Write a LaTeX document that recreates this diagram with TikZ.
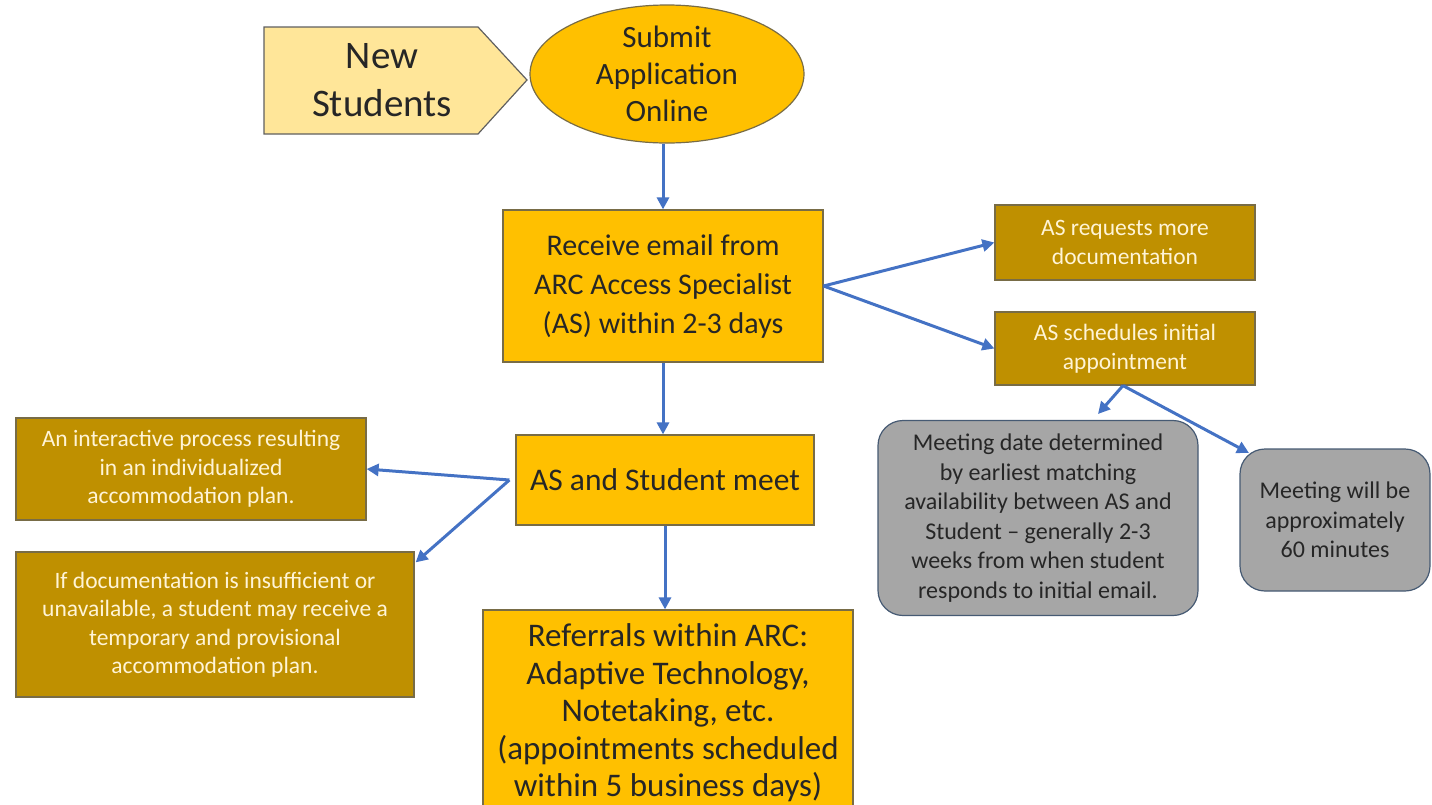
\documentclass[tikz,border=0pt]{standalone}
\usepackage{fontspec}
\setmainfont{Carlito}
\usetikzlibrary{shapes.geometric, arrows.meta, positioning, calc}
\definecolor{arcorange}{RGB}{255,192,0}
\definecolor{arcpale}{RGB}{255,230,153}
\definecolor{arcgold}{RGB}{191,144,0}
\definecolor{arcgray}{RGB}{166,166,166}
\definecolor{arcblue}{RGB}{68,114,196}
\definecolor{arcedge}{RGB}{120,108,70}
\definecolor{arcslate}{RGB}{70,90,115}
\definecolor{arccream}{RGB}{255,244,214}

\begin{document}
\begin{tikzpicture}[
        x=1pt, y=-1pt,
        mainbox/.style={rectangle, draw=arcedge, line width=1.2pt, fill=arcorange, align=center, text=black!85, inner sep=0pt},
        notebox/.style={rectangle, draw=arcedge, line width=1.2pt, fill=arcgold, align=center, text=arccream, inner sep=0pt, font=\fontsize{23.5}{28.5}\selectfont},
        infobox/.style={rectangle, rounded corners=25pt, draw=arcslate, line width=1.2pt, fill=arcgray, align=center, text=black!85, inner sep=0pt, font=\fontsize{24}{29.5}\selectfont},
        flow/.style={-{Triangle[length=12pt, width=12pt]}, line width=3pt, arcblue}
    ]
        \useasboundingbox (0,0) rectangle (1432,804);
        % pentagon arrow behind the first label
        \draw[draw=gray!75!black, line width=1.2pt, fill=arcpale] (264,27) -- (478,27) -- (527,80) -- (478,134) -- (264,134) -- cycle;
        \node[align=center, text=black!85, inner sep=0pt, font=\fontsize{39}{48}\selectfont] (newstud) at (382,80) {New\\Students};
        \node[ellipse, draw=arcedge, line width=1.2pt, fill=arcorange, minimum width=274pt, minimum height=138pt, inner sep=0pt, align=center, text=black!85, font=\fontsize{31}{37}\selectfont] (submit) at (667,74) {Submit\\Application\\Online};
        \node[mainbox, minimum width=320pt, minimum height=152pt, font=\fontsize{30}{39}\selectfont] (receive) at (663,286) {Receive email from\\ARC Access Specialist\\(AS) within 2-3 days};
        \node[mainbox, minimum width=298pt, minimum height=90pt, font=\fontsize{31.5}{38}\selectfont] (meet) at (665,480) {AS and Student meet};
        \node[mainbox, minimum width=370pt, minimum height=206pt, font=\fontsize{33}{37.5}\selectfont] (referrals) at (668,713) {Referrals within ARC:\\Adaptive Technology,\\Notetaking, etc.\\(appointments scheduled\\within 5 business days)};

        \node[notebox, minimum width=260pt, minimum height=75pt] (request) at (1125,242.5) {AS requests more\\documentation};
        \node[notebox, minimum width=260pt, minimum height=73pt] (schedule) at (1125,348.5) {AS schedules initial\\appointment};
        \node[notebox, minimum width=350pt, minimum height=102pt] (interactive) at (191,469) {An interactive process resulting\\in an individualized\\accommodation plan.};
        \node[notebox, minimum width=398pt, minimum height=145pt] (provisional) at (215,624.5) {If documentation is insufficient or\\unavailable, a student may receive a\\temporary and provisional\\accommodation plan.};

        \node[infobox, minimum width=320pt, minimum height=195pt] (datebox) at (1038,518) {Meeting date determined\\by earliest matching\\availability between AS and\\Student -- generally 2-3\\weeks from when student\\responds to initial email.};
        \node[infobox, minimum width=190pt, minimum height=142pt] (duration) at (1335,520) {Meeting will be\\approximately\\60 minutes};

        \coordinate (datetip) at (1098,414);
        \coordinate (durtip) at (1249,453);

        \draw[flow] (submit.south -| receive.north) -- (receive.north);
        \draw[flow] (receive.south) -- (receive.south |- meet.north);
        \draw[flow] (meet.south) -- (meet.south |- referrals.north);
        \draw[flow] (receive.east) -- (request.west);
        \draw[flow] (receive.east) -- (schedule.west);
        \draw[flow] ($(schedule.south)+(-2,0)$) -- (datetip);
        \draw[flow] ($(schedule.south)+(-2,0)$) -- (durtip);
        \draw[flow] ($(meet.west)+(-6,0)$) -- (interactive.east);
        \draw[flow] ($(meet.west)+(-6,0)$) -- ($(provisional.north east)+(1,11)$);
    \end{tikzpicture}
\end{document}
